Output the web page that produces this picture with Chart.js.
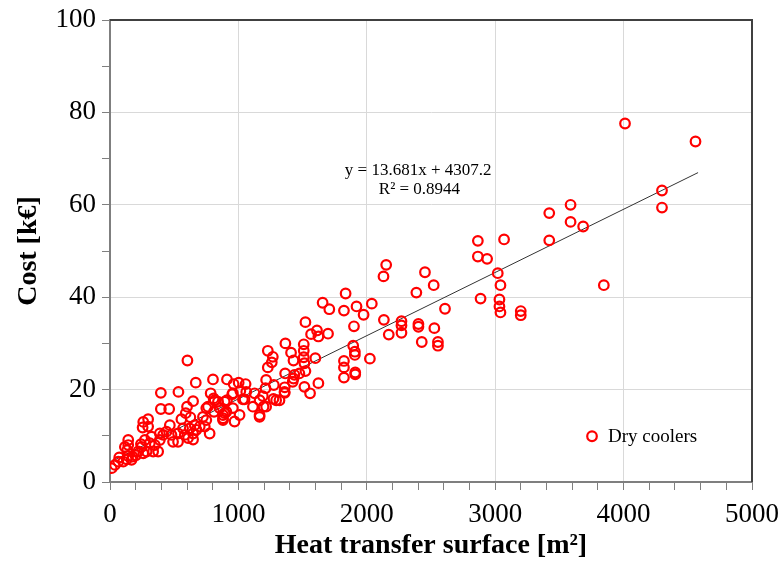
<!DOCTYPE html>
<html>
<head>
<meta charset="utf-8">
<script src="https://cdn.jsdelivr.net/npm/chart.js@4.4.0/dist/chart.umd.min.js"></script>
<style>
  html, body { margin: 0; padding: 0; background: #fff; }
  #wrap { width: 782px; height: 566px; }
</style>
</head>
<body>
<div id="wrap"><canvas id="chart" width="782" height="566"></canvas></div>
<script>
// Dry coolers: heat transfer surface [m2] vs cost [k€]
const surface = [
  13, 39, 64, 72, 103, 130, 142, 168, 176, 142, 142, 134, 116, 202, 220, 259, 246, 241, 285, 272,
  297, 297, 254, 259, 323, 310, 349, 336, 375, 388, 388, 414, 440, 466, 479, 530, 530, 491, 569, 582,
  608, 621, 647, 660, 647, 673, 603, 668, 396, 533, 396, 461, 647, 600, 590, 626, 556, 699,
  738, 776, 750, 763, 750, 724, 802, 784, 807, 841, 893, 810, 880, 815, 854, 880, 906, 970, 1009, 952,
  1048, 1165, 1165, 1216, 1294, 1359, 911, 963, 1002, 1056, 957, 1015, 1061, 1126, 1035, 957, 911, 893,
  880, 1113, 1196, 1165, 1190, 1273, 1211, 1216, 1276, 1229, 1260, 1268, 1229, 1364, 1436, 1475, 1522,
  1423, 1623, 1514, 1558, 1361, 1361, 1320, 1366, 1410, 1429, 1509, 1509, 1509, 1599, 1514, 1429,
  1522, 1566, 1612, 1623, 1698, 1656, 1708, 1835, 1822, 1920, 1975, 2039, 1900, 2133, 2270, 2270, 2270,
  2171, 2402, 2402, 2526, 2428, 2554, 2554, 1894, 1907, 1907, 2024, 1822, 1822, 1822, 1910, 1910,
  2151, 2130, 2453, 2521, 2386, 2609,
  4011, 4560, 4299, 4299, 3421, 3587, 3587, 3685, 3421, 3846, 2865, 2865, 2937, 3069, 3020, 3041,
  2886, 3033, 3033, 3041, 3199, 3199
];
const cost = [
  3.0, 3.7, 4.4, 5.3, 4.4, 4.9, 5.6, 4.8, 5.5, 9.1, 8.0, 6.9, 7.6, 5.8, 6.6, 6.2, 7.6, 8.2, 6.6, 9.1,
  12.0, 13.6, 11.8, 13.0, 9.8, 8.4, 8.0, 6.6, 6.6, 9.1, 10.5, 10.2, 10.9, 12.3, 10.2, 10.5, 8.7, 8.7, 11.6, 10.2,
  9.5, 11.6, 10.5, 12.3, 9.2, 11.3, 26.3, 21.5, 19.3, 19.5, 15.8, 15.8, 17.5, 16.3, 14.9, 14.0, 13.6, 12.0,
  12.0, 10.5, 13.4, 16.3, 16.0, 14.1, 22.2, 19.2, 18.1, 17.4, 17.4, 15.2, 14.5, 17.7, 16.0, 13.8, 15.2, 13.1, 14.5, 19.0,
  17.9, 14.5, 17.7, 16.3, 17.7, 19.5, 22.2, 21.2, 21.5, 21.2, 19.2, 19.7, 19.5, 19.2, 17.9, 16.0, 17.7, 14.9,
  13.4, 16.3, 16.3, 14.1, 18.6, 18.0, 20.3, 22.1, 21.0, 24.8, 25.9, 27.1, 28.4, 23.5, 23.2, 23.5, 24.0,
  21.7, 21.4, 20.6, 19.2, 20.5, 19.3, 17.7, 30.0, 28.0, 26.3, 29.8, 28.4, 27.0, 26.8, 25.7, 22.4,
  34.6, 32.0, 32.8, 31.5, 32.1, 38.8, 37.4, 40.8, 37.1, 38.0, 36.2, 38.6, 33.7, 35.1, 34.8, 33.9, 32.3,
  31.9, 34.2, 33.6, 33.3, 30.3, 30.3, 29.5, 29.5, 28.2, 27.5, 26.7, 26.2, 24.8, 22.6, 23.7, 23.3,
  47.0, 44.5, 45.4, 42.6, 41.0, 37.5,
  77.6, 73.7, 63.1, 59.4, 58.2, 60.0, 56.3, 55.3, 52.3, 42.6, 52.2, 48.8, 48.3, 52.5, 45.2, 42.6,
  39.7, 39.5, 38.0, 36.7, 37.0, 36.1
];

// linear trend line ends
const trendX = [30, 4580];
const trendY = [4.72, 66.97];

const xLabelTicks = [0, 1000, 2000, 3000, 4000, 5000];
const yLabelTicks = [0, 20, 40, 60, 80, 100];

const eqLines = ['y = 13.681x + 4307.2', 'R\u00b2 = 0.8944'];
const serif = "'Liberation Serif', 'Times New Roman', serif";
const axisGrey = '#7f7f7f';

const points = surface.map((x, i) => ({ x, y: cost[i] }));
const trend = trendX.map((x, i) => ({ x, y: trendY[i] }));

// frame on the top and right of the plot + equation + legend
const extras = {
  id: 'extras',
  afterDatasetsDraw(chart) {
    const { ctx, chartArea: a, scales: { x, y } } = chart;
    ctx.save();
    ctx.strokeStyle = '#404040';
    ctx.lineWidth = 2;
    ctx.beginPath();
    ctx.moveTo(a.left, a.top);
    ctx.lineTo(a.right, a.top);
    ctx.lineTo(a.right, a.bottom);
    ctx.stroke();

    // equation
    ctx.fillStyle = '#000';
    ctx.font = '17px ' + serif;
    ctx.textAlign = 'center';
    ctx.textBaseline = 'middle';
    ctx.fillText(eqLines[0], x.getPixelForValue(2400), y.getPixelForValue(67.4));
    ctx.fillText(eqLines[1], x.getPixelForValue(2410), y.getPixelForValue(63.3));

    // legend
    const ds = chart.data.datasets[0];
    const lx = x.getPixelForValue(3754), ly = y.getPixelForValue(9.9);
    ctx.strokeStyle = ds.borderColor;
    ctx.lineWidth = 2.2;
    ctx.beginPath();
    ctx.arc(lx, ly, 4.8, 0, Math.PI * 2);
    ctx.stroke();
    ctx.textAlign = 'left';
    ctx.font = '19px ' + serif;
    ctx.fillText(ds.label, lx + 16, ly + 1);
    ctx.restore();
  }
};

new Chart(document.getElementById('chart'), {
  type: 'scatter',
  data: {
    datasets: [
      {
        label: 'Dry coolers',
        data: points,
        borderColor: '#ff0000',
        backgroundColor: 'rgba(0,0,0,0)',
        borderWidth: 2.2,
        pointRadius: 4.8,
        pointHoverRadius: 4.8
      },
      {
        label: 'trend',
        type: 'line',
        data: trend,
        borderColor: '#333',
        borderWidth: 1,
        pointRadius: 0,
        fill: false
      }
    ]
  },
  options: {
    responsive: false,
    animation: false,
    devicePixelRatio: 1,
    layout: { padding: { top: 20, right: 30, left: 0, bottom: 0 } },
    plugins: { legend: { display: false }, tooltip: { enabled: false } },
    scales: {
      x: {
        type: 'linear',
        min: 0, max: 5000,
        afterFit: s => { s.height = 84; s.paddingLeft = 0; s.paddingRight = 0; },
        ticks: {
          stepSize: 200, autoSkip: false, maxRotation: 0, padding: 9,
          color: '#000', font: { family: serif, size: 27 },
          callback: v => xLabelTicks.includes(v) ? v : ''
        },
        grid: {
          color: c => xLabelTicks.includes(c.tick.value) ? '#d9d9d9' : 'rgba(0,0,0,0)',
          tickColor: axisGrey, tickLength: 8, lineWidth: 1
        },
        border: { color: axisGrey, width: 2 },
        title: {
          display: true, text: 'Heat transfer surface [m\u00b2]', color: '#000',
          font: { family: serif, size: 28, weight: 'bold' }, padding: { top: 0, bottom: 3 }
        }
      },
      y: {
        type: 'linear',
        min: 0, max: 100,
        afterFit: s => { s.width = 110; s.paddingTop = 0; s.paddingBottom = 0; },
        ticks: {
          stepSize: 10, autoSkip: false, padding: 6,
          color: '#000', font: { family: serif, size: 27 },
          callback: v => yLabelTicks.includes(v) ? v : ''
        },
        grid: {
          color: c => yLabelTicks.includes(c.tick.value) ? '#d9d9d9' : 'rgba(0,0,0,0)',
          tickColor: axisGrey, tickLength: 8, lineWidth: 1
        },
        border: { color: axisGrey, width: 2 },
        title: {
          display: true, text: 'Cost [k\u20ac]', color: '#000',
          font: { family: serif, size: 28, weight: 'bold' }, padding: { top: 12, bottom: 0 }
        }
      }
    }
  },
  plugins: [extras]
});
</script>
</body>
</html>
